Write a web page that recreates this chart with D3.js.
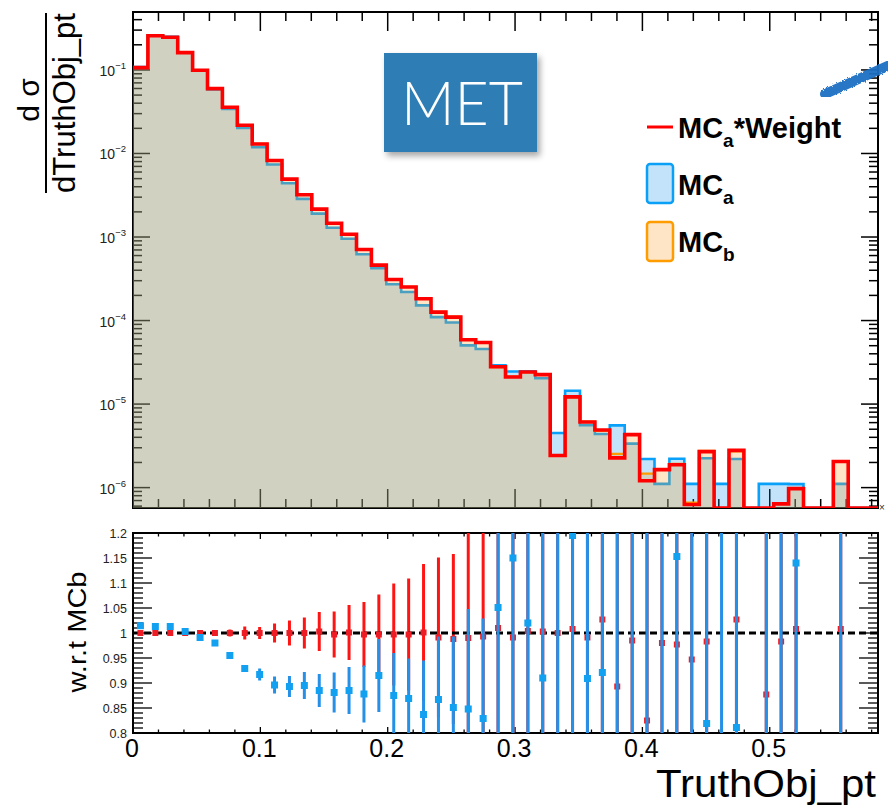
<!DOCTYPE html>
<html><head><meta charset="utf-8">
<script src="https://cdn.jsdelivr.net/npm/d3@7"></script>
<style>
body{margin:0;background:#fff}
svg{display:block}
text{font-family:"Liberation Sans",Arial,Helvetica,sans-serif}
</style>
</head><body>
<svg id="c" width="888" height="808"></svg>
<script>
// ---------------- DATA ----------------
const xLo = 0, xHi = 0.585, nBins = 50;
const yTopMin = 5.7e-7, yTopMax = 0.494;
const ratioMin = 0.8, ratioMax = 1.2;

// MCa*Weight (red line)
const weighted = [0.1065,0.257,0.246,0.161,0.099,0.0597,0.0358,0.0218,0.0130,0.00823,
  0.00493,0.00320,0.00216,0.00146,0.00108,7.08e-4,4.61e-4,3.10e-4,2.52e-4,1.82e-4,
  1.26e-4,1.10e-4,5.89e-5,5.47e-5,2.80e-5,2.11e-5,2.42e-5,2.25e-5,2.42e-6,1.22e-5,
  6.11e-6,4.90e-6,2.27e-6,4.31e-6,1.21e-6,1.64e-6,1.88e-6,6.27e-7,2.70e-6,0,
  2.79e-6,0,4.8e-7,6.38e-7,9.72e-7,0,0,2.05e-6,0,0];
// MCa (blue)
const mcA = [0.108,0.260,0.249,0.1615,0.0981,0.0585,0.0342,0.02025,0.01192,0.00737,
  0.00440,0.00286,0.001906,0.00129,9.55e-4,6.23e-4,4.23e-4,2.72e-4,2.20e-4,1.52e-4,
  1.10e-4,9.47e-5,5.05e-5,4.57e-5,2.91e-5,2.45e-5,2.46e-5,2.04e-5,4.51e-6,1.446e-5,
  5.6e-6,4.39e-6,5.56e-6,3.36e-6,2.2e-6,1.107e-6,2.22e-6,1.107e-6,2.25e-6,1.107e-6,
  2.2e-6,0,1.107e-6,1.107e-6,1.1e-6,0,0,1.107e-6,0,0];
// MCb (orange)
const mcB = [0.1065,0.257,0.246,0.161,0.099,0.0597,0.0358,0.0218,0.0130,0.00823,
  0.00493,0.00320,0.002154,0.001464,0.001079,7.10e-4,4.62e-4,3.11e-4,2.53e-4,1.82e-4,
  1.27e-4,1.113e-4,5.95e-5,5.51e-5,2.77e-5,2.13e-5,2.41e-5,2.24e-5,2.42e-6,1.21e-5,
  6.17e-6,4.77e-6,2.54e-6,4.38e-6,1.47e-6,1.67e-6,1.92e-6,6.62e-7,2.75e-6,0,
  2.72e-6,0,5.5e-7,6.49e-7,9.64e-7,0,0,2.03e-6,0,0];

// ratio (MCa*Weight)/MCb  (red)
const ratioW = [1.0,1.0,1.0,1.0,1.0,1.0,1.0,1.0,1.0,1.0,
  1.0,1.0,1.003,0.997,1.001,0.997,0.997,0.997,0.997,1.001,
  0.991,0.988,0.99,0.993,1.01,0.991,1.004,1.003,1.0,1.008,
  0.991,1.027,0.893,0.985,0.825,0.98,0.977,0.947,0.983,null,
  1.027,null,0.877,0.983,1.008,null,null,1.008,null,null];
const ratioWErr = [0.002,0.002,0.002,0.003,0.004,0.006,0.007,0.013,0.012,0.019,
  0.025,0.031,0.039,0.046,0.055,0.065,0.08,0.102,0.112,0.137,
  0.16,0.17,0.25,0.3,1,1,1,1,1,1,
  1,1,1,1,1,1,1,1,1,null,
  1,null,1,1,1,null,null,1,null,null];
// ratio MCa/MCb (blue)
const ratioA = [1.0146,1.013,1.013,1.003,0.991,0.98,0.955,0.929,0.917,0.896,
  0.893,0.895,0.885,0.881,0.885,0.878,0.915,0.875,0.869,0.837,
  0.867,0.851,0.848,0.829,1.051,1.15,1.02,0.91,1.9,1.195,
  0.909,0.921,2.19,0.77,1.5,0.66,1.153,1.67,0.819,0,
  0.811,null,2.0,1.7,1.14,null,null,0.545,null,null];
const ratioAErr = [0.002,0.002,0.002,0.002,0.003,0.003,0.004,0.007,0.012,0.017,
  0.021,0.027,0.033,0.04,0.047,0.057,0.073,0.085,0.08,0.108,
  0.126,0.142,0.2,0.2,1,1,1,1,2,1,
  1,1,2,1,1,1,1,1,1,2,
  1,null,2,2,1,null,null,1,null,null];

const xTickValues = [0,0.1,0.2,0.3,0.4,0.5];
const xTickLabels = ["0","0.1","0.2","0.3","0.4","0.5"];
const yTopExps = [-6,-5,-4,-3,-2,-1];
const ratioTickValues = [0.8,0.85,0.9,0.95,1.0,1.05,1.1,1.15,1.2];
const ratioTickLabels = ["0.8","0.85","0.9","0.95","1","1.05","1.1","1.15","1.2"];
const legendNames = [["MC","a","*Weight"],["MC","a",""],["MC","b",""]];
const xTitle = "TruthObj_pt";
const yTitleNum = "d σ", yTitleDen = "dTruthObj_pt";
const ratioTitle = "w.r.t MCb";
const boxLabel = "MET";

// ---------------- LAYOUT ----------------
const L = 133, R = 878, T1 = 12, B1 = 508, T2 = 533, B2 = 733;
const svg = d3.select("#c");
const x = d3.scaleLinear().domain([xLo, xHi]).range([L, R]);
const yT = d3.scaleLog().domain([yTopMin, yTopMax]).range([B1, T1]);
const yR = d3.scaleLinear().domain([ratioMin, ratioMax]).range([B2, T2]);
const bw = (xHi - xLo) / nBins;
const edges = d3.range(nBins + 1).map(i => xLo + i * bw);

const defs = svg.append("defs");
defs.append("clipPath").attr("id","clipTop").append("rect")
  .attr("x",L).attr("y",T1).attr("width",R-L).attr("height",B1-T1);
defs.append("clipPath").attr("id","clipR").append("rect")
  .attr("x",L).attr("y",T2).attr("width",R-L).attr("height",B2-T2);
const sh = defs.append("filter").attr("id","shadow").attr("x","-20%").attr("y","-20%").attr("width","150%").attr("height","150%");
sh.append("feDropShadow").attr("dx",3).attr("dy",4).attr("stdDeviation",3).attr("flood-color","#000").attr("flood-opacity",0.35);
const fz = defs.append("filter").attr("id","fuzz");
fz.append("feTurbulence").attr("type","fractalNoise").attr("baseFrequency",0.9).attr("numOctaves",2).attr("result","n");
fz.append("feDisplacementMap").attr("in","SourceGraphic").attr("in2","n").attr("scale",3);

// ---------------- TOP PANEL AXES ----------------
const gAxT = svg.append("g");
const logTicks = [];
for (let e = -7; e <= 0; e++) for (let m = 1; m <= 9; m++) {
  const v = m * Math.pow(10, e);
  if (v >= yTopMin && v <= yTopMax) logTicks.push({v, major: m === 1});
}
logTicks.forEach(t => {
  const yy = yT(t.v), len = t.major ? 17 : 9;
  gAxT.append("line").attr("x1",L).attr("x2",L+len).attr("y1",yy).attr("y2",yy).attr("stroke","#000").attr("stroke-width",1.5);
  gAxT.append("line").attr("x1",R).attr("x2",R-len).attr("y1",yy).attr("y2",yy).attr("stroke","#000").attr("stroke-width",1.5);
});
const xMinor = d3.range(0, 0.5801, 0.02);
xMinor.forEach(v => {
  const major = Math.abs(v*10 - Math.round(v*10)) < 1e-6;
  const len = major ? 19 : 9;
  const xx = x(v);
  gAxT.append("line").attr("x1",xx).attr("x2",xx).attr("y1",B1).attr("y2",B1-len).attr("stroke","#000").attr("stroke-width",1.5);
  gAxT.append("line").attr("x1",xx).attr("x2",xx).attr("y1",T1).attr("y2",T1+len).attr("stroke","#000").attr("stroke-width",1.5);
});
gAxT.append("rect").attr("x",L).attr("y",T1).attr("width",R-L).attr("height",B1-T1)
  .attr("fill","none").attr("stroke","#000").attr("stroke-width",2);
yTopExps.forEach(e => {
  const yy = yT(Math.pow(10, e));
  const t = svg.append("text").attr("x",126).attr("y",yy+6).attr("text-anchor","end").attr("fill","#222");
  t.append("tspan").attr("font-size",14).text("10");
  t.append("tspan").attr("font-size",9.5).attr("dy",-7).text("\u2212" + Math.abs(e));
});

// ---------------- TOP PANEL HISTOGRAMS ----------------
function steps(vals){ const p=[]; vals.forEach((v,i)=>{p.push([edges[i],v]);p.push([edges[i+1],v]);}); return p; }
const yc = v => v > 0 ? Math.max(T1-5, Math.min(B1, yT(v))) : B1;
const line = d3.line().x(d => x(d[0])).y(d => yc(d[1]));
const area = d3.area().x(d => x(d[0])).y0(B1).y1(d => yc(d[1]));
const gH = svg.append("g").attr("clip-path","url(#clipTop)");
gH.append("path").attr("d", area(steps(mcA))).attr("fill","rgba(11,143,231,0.25)");
gH.append("path").attr("d", line(steps(mcA))).attr("fill","none").attr("stroke","#08a0f8").attr("stroke-width",2.6);
gH.append("path").attr("d", area(steps(mcB))).attr("fill","rgba(248,162,51,0.28)");
gH.append("path").attr("d", line(steps(mcB))).attr("fill","none").attr("stroke","#ff9a00").attr("stroke-width",2.2);
gH.append("path").attr("d", line(steps(weighted))).attr("fill","none").attr("stroke","#ff0000").attr("stroke-width",3.6).attr("stroke-linejoin","miter");
svg.append("text").attr("x",879).attr("y",511).attr("font-size",10).attr("fill","#333").text("\u00d7");

// ---------------- TOP PANEL TITLE ----------------
svg.append("line").attr("x1",46).attr("x2",46).attr("y1",13).attr("y2",193).attr("stroke","#000").attr("stroke-width",2);
svg.append("text").attr("transform","translate(39,100) rotate(-90)").attr("text-anchor","middle")
  .attr("font-size",30).text(yTitleNum);
svg.append("text").attr("transform","translate(75,103) rotate(-90)").attr("text-anchor","middle")
  .attr("font-size",31).attr("textLength",180).attr("lengthAdjust","spacingAndGlyphs").text(yTitleDen);

// ---------------- LEGEND ----------------
const lg = svg.append("g");
lg.append("line").attr("x1",647).attr("x2",673).attr("y1",127).attr("y2",127).attr("stroke","#ff0000").attr("stroke-width",3);
lg.append("rect").attr("x",647).attr("y",164).attr("width",26).attr("height",39).attr("rx",3)
  .attr("fill","#c2e3f9").attr("stroke","#0aa0f7").attr("stroke-width",2.5);
lg.append("rect").attr("x",647).attr("y",222).attr("width",26).attr("height",39).attr("rx",3)
  .attr("fill","#fde5c6").attr("stroke","#ff9d00").attr("stroke-width",2.5);
const legY = [138, 195, 252];
legendNames.forEach((n,i) => {
  const t = lg.append("text").attr("x",678).attr("y",legY[i]).attr("font-weight","bold").attr("font-size",29).attr("fill","#000");
  t.append("tspan").text(n[0]);
  t.append("tspan").attr("font-size",19).attr("dy",9).text(n[1]);
  if (n[2]) t.append("tspan").attr("dy",-9).text(n[2]);
});

// ---------------- MET BOX ----------------
svg.append("rect").attr("x",384).attr("y",53).attr("width",153).attr("height",99)
  .attr("fill","#2f7db4").attr("filter","url(#shadow)");
svg.append("text").attr("x",462).attr("y",125).attr("text-anchor","middle")
  .attr("font-size",62).attr("font-weight",300).attr("fill","#fff")
  .style("font-family","Lato, 'Open Sans', 'Liberation Sans', sans-serif")
  .attr("textLength",122).attr("lengthAdjust","spacingAndGlyphs").text(boxLabel);

// blue pen stroke at top right
svg.append("line").attr("x1",825).attr("y1",94).attr("x2",892).attr("y2",64)
  .attr("stroke","#1b6fc3").attr("stroke-width",10).attr("stroke-linecap","round")
  .attr("opacity",0.95).attr("filter","url(#fuzz)");

// ---------------- RATIO PANEL ----------------
const gAxR = svg.append("g");
d3.range(0, 41).forEach(k => {
  const v = ratioMin + k * 0.01;
  const major = k % 5 === 0;
  const len = major ? 19 : 10;
  const yy = yR(v);
  gAxR.append("line").attr("x1",L).attr("x2",L+len).attr("y1",yy).attr("y2",yy).attr("stroke","#000").attr("stroke-width",1.3);
  gAxR.append("line").attr("x1",R).attr("x2",R-len).attr("y1",yy).attr("y2",yy).attr("stroke","#000").attr("stroke-width",1.3);
});
xMinor.forEach(v => {
  const major = Math.abs(v*10 - Math.round(v*10)) < 1e-6;
  const len = major ? 6 : 3.5;
  const xx = x(v);
  gAxR.append("line").attr("x1",xx).attr("x2",xx).attr("y1",B2).attr("y2",B2-len).attr("stroke","#000").attr("stroke-width",1.3);
  gAxR.append("line").attr("x1",xx).attr("x2",xx).attr("y1",T2).attr("y2",T2+len).attr("stroke","#000").attr("stroke-width",1.3);
});
gAxR.append("rect").attr("x",L).attr("y",T2).attr("width",R-L).attr("height",B2-T2)
  .attr("fill","none").attr("stroke","#000").attr("stroke-width",2);
ratioTickValues.forEach((v,i) => {
  svg.append("text").attr("x",127).attr("y",yR(v)+4.5).attr("text-anchor","end")
    .attr("font-size",12.5).attr("fill","#222").text(ratioTickLabels[i]);
});
xTickValues.forEach((v,i) => {
  svg.append("text").attr("x",x(v)-1).attr("y",757).attr("text-anchor","middle")
    .attr("font-size",25).attr("fill","#000").text(xTickLabels[i]);
});
svg.append("text").attr("transform","translate(86,632) rotate(-90)").attr("text-anchor","middle")
  .attr("font-size",26).attr("textLength",121).attr("lengthAdjust","spacingAndGlyphs").text(ratioTitle);
svg.append("text").attr("x",876).attr("y",797).attr("text-anchor","end")
  .attr("font-size",38).attr("textLength",220).attr("lengthAdjust","spacingAndGlyphs").text(xTitle);

const gR = svg.append("g").attr("clip-path","url(#clipR)");
const centers = edges.slice(0,-1).map((e,i) => (e + edges[i+1]) / 2);
function bars(vals, errs, color, w){
  vals.forEach((v,i) => {
    if (v === null) return;
    gR.append("line").attr("x1",x(centers[i])).attr("x2",x(centers[i]))
      .attr("y1",yR(v-errs[i])).attr("y2",yR(v+errs[i])).attr("stroke",color).attr("stroke-width",w);
  });
}
function marks(vals, color, s){
  vals.forEach((v,i) => {
    if (v === null) return;
    gR.append("rect").attr("x",x(centers[i])-s/2).attr("y",yR(v)-s/2).attr("width",s).attr("height",s).attr("fill",color);
  });
}
bars(ratioW, ratioWErr, "#ff1414", 3);
gR.append("line").attr("x1",L).attr("x2",R).attr("y1",yR(1)).attr("y2",yR(1))
  .attr("stroke","#000").attr("stroke-width",3).attr("stroke-dasharray","7,4");
marks(ratioW, "#ee1c24", 6);
bars(ratioA, ratioAErr, "#2590e6", 3);
marks(ratioA, "#12a0f0", 7);
</script>
</body></html>
